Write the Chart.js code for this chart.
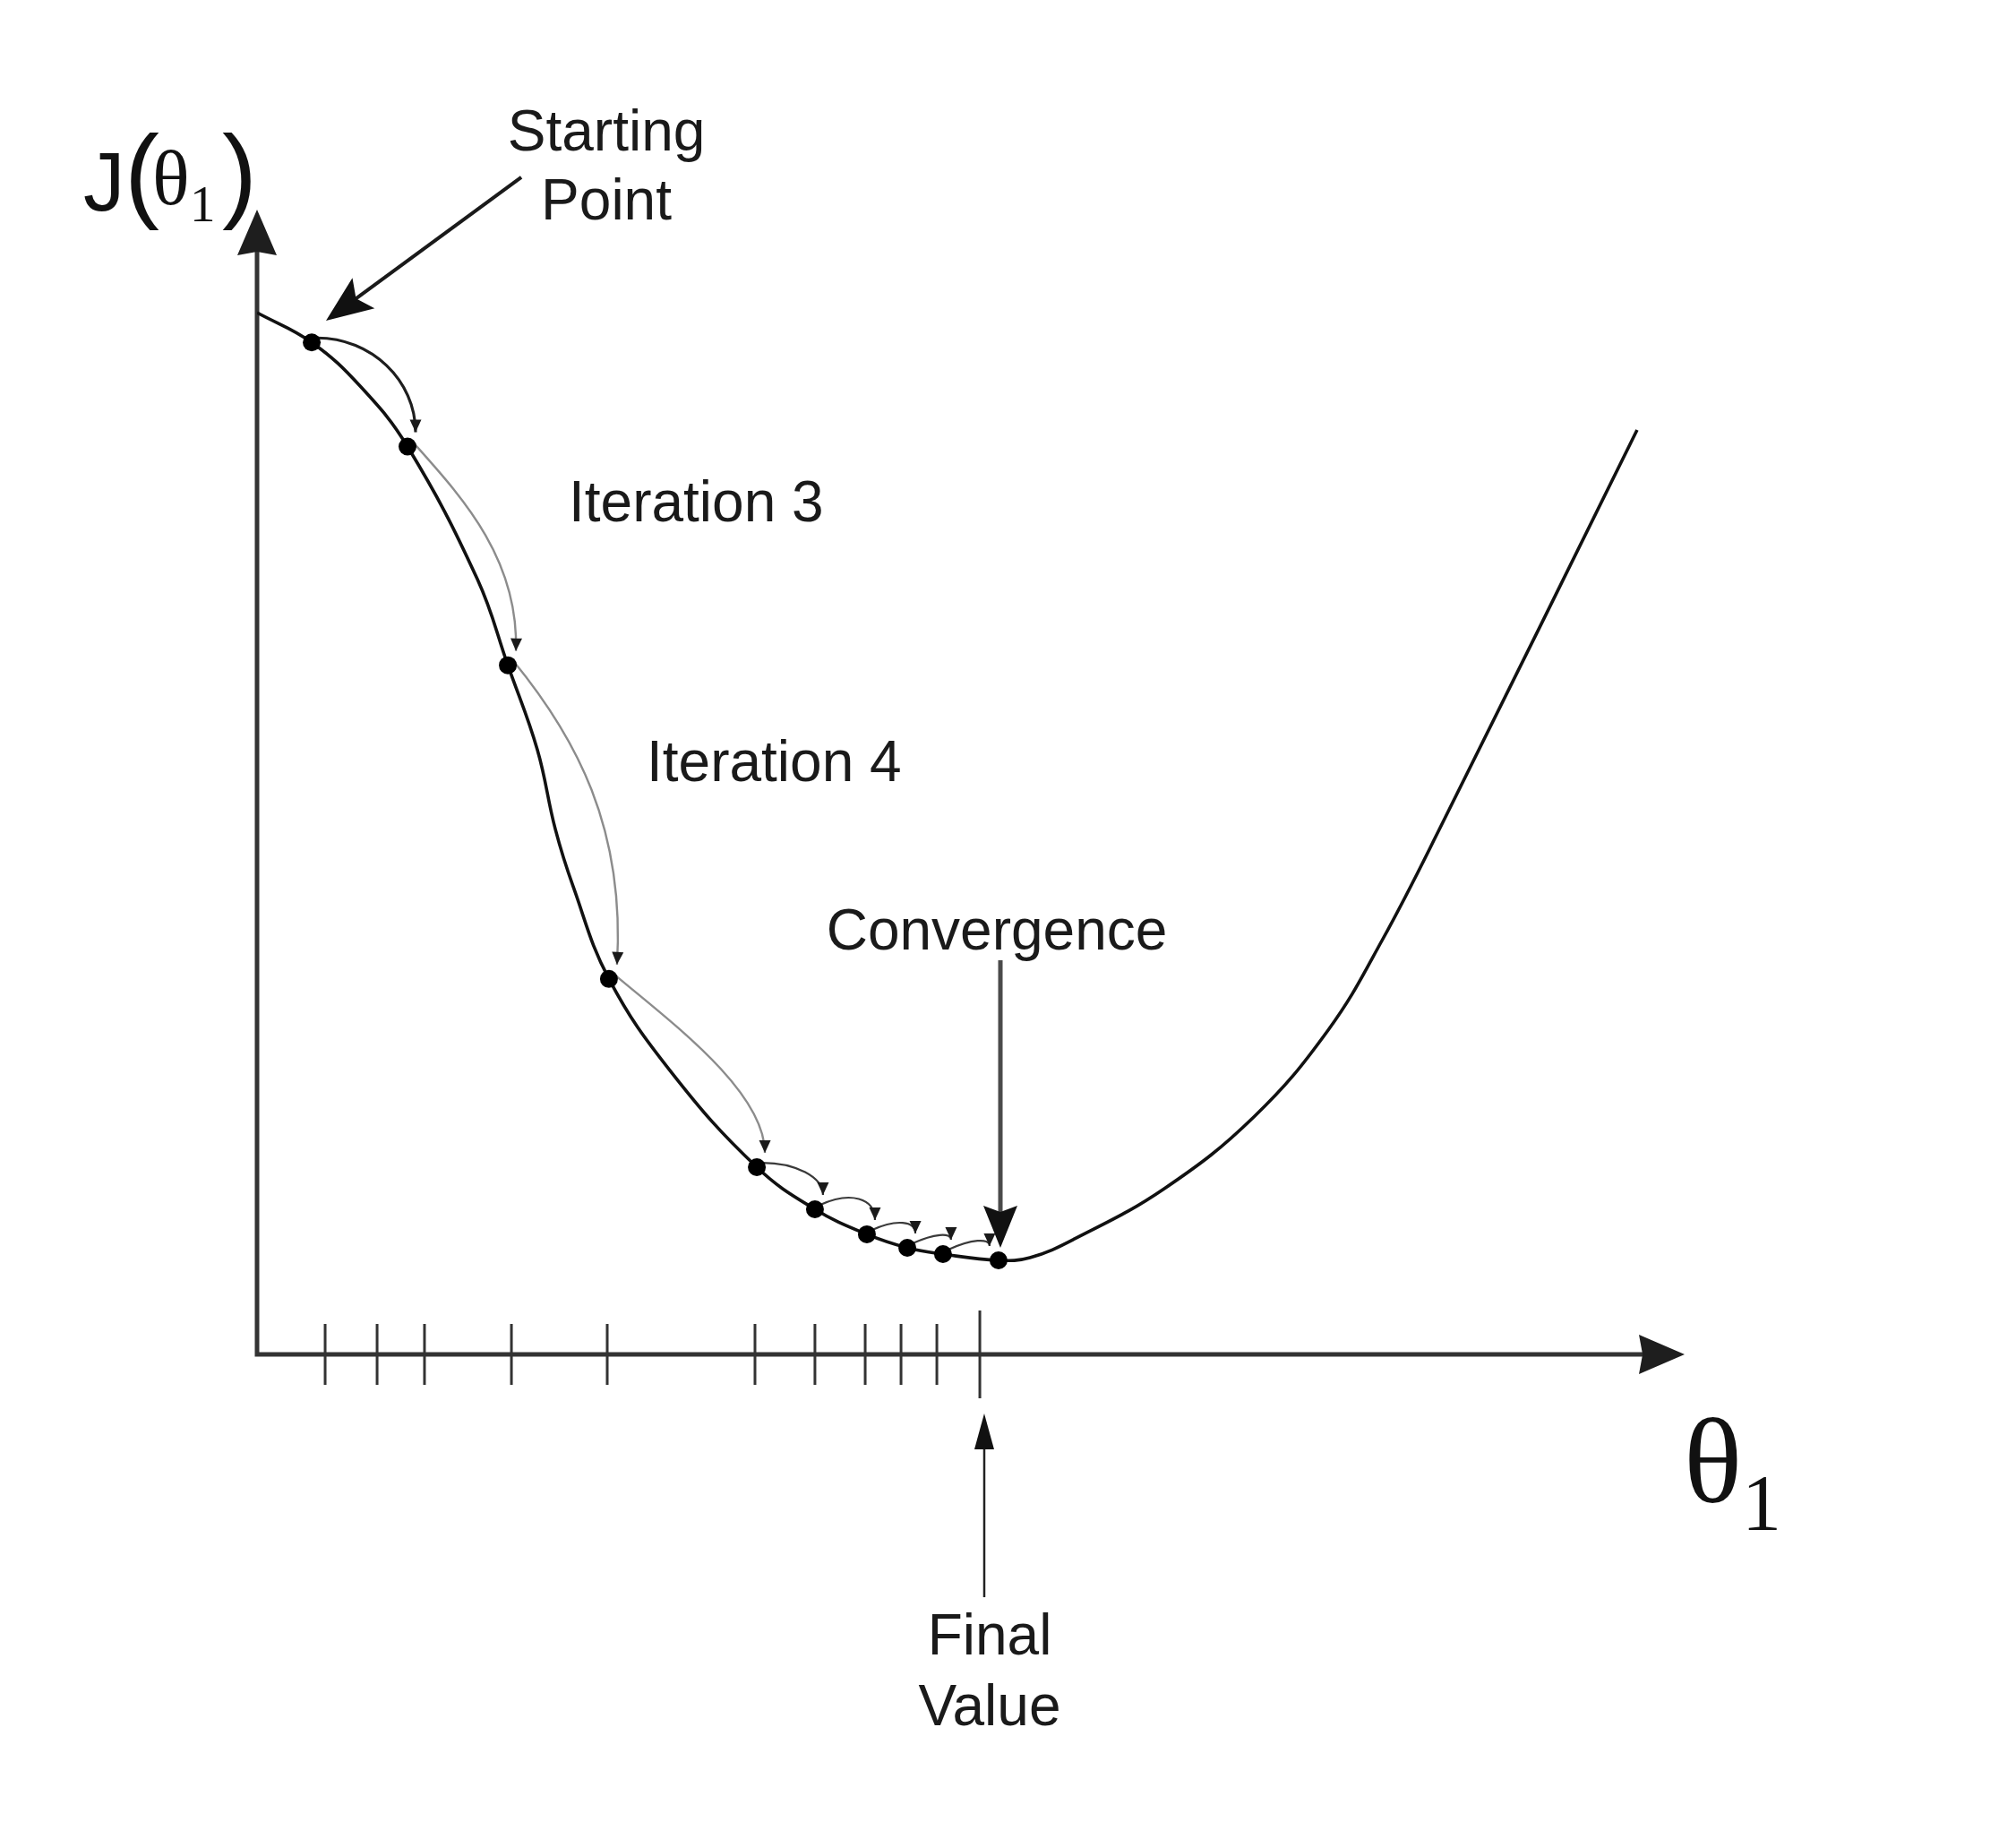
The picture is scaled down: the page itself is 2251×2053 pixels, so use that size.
<!DOCTYPE html>
<html>
<head>
<meta charset="utf-8">
<title>Gradient descent</title>
<script src="https://cdn.jsdelivr.net/npm/chart.js@4.4.1/dist/chart.umd.min.js"></script>
<style>
  html, body { margin: 0; padding: 0; background: #fff; }
  canvas { display: block; }
</style>
</head>
<body>
<canvas id="myChart" width="2251" height="2053"></canvas>
<script>
// curva di costo J(theta1) (unita' arbitrarie, assi 0-10)
const curveX = [0, 0.383, 0.728, 1.054, 1.544, 1.757, 1.964, 2.089, 2.215, 2.465, 2.905, 3.501, 3.908, 4.272, 4.555, 4.805, 5.194, 5.414, 5.728, 6.355, 6.982, 7.503, 7.880, 8.300, 9.667];
const curveY = [9.10, 8.84, 8.45, 7.93, 6.77, 6.02, 5.28, 4.59, 4.085, 3.28, 2.46, 1.635, 1.268, 1.049, 0.931, 0.876, 0.822, 0.845, 1.01, 1.448, 2.074, 2.833, 3.615, 4.632, 8.075];

// passi della discesa del gradiente
const stepX = [0.383, 1.054, 1.757, 2.465, 3.501, 3.908, 4.272, 4.555, 4.805, 5.194];
const stepY = [8.84, 7.93, 6.02, 3.28, 1.635, 1.268, 1.049, 0.931, 0.876, 0.822];

// tacche sull'asse theta1 (l'ultima e' il valore finale)
const tickX = [0.477, 0.841, 1.173, 1.782, 2.453, 3.488, 3.908, 4.260, 4.511, 4.762, 5.063];

// testi
const startLabel = ['Starting', 'Point'];
const iterLabels = ['Iteration 3', 'Iteration 4'];
const convLabel = 'Convergence';
const finalLabel = ['Final', 'Value'];

// posizioni delle scritte, in unita' degli assi
const pos = {
  start: { x: 2.447, y: [10.516, 9.914] },
  startArrow: { from: [1.851, 10.282], to: [0.483, 9.030] },
  iter: [[2.183, 7.277], [2.729, 5.008]],
  conv: [5.182, 3.537],
  convArrow: { from: [5.207, 3.443], to: [5.207, 0.931] },
  finalArrow: { from: [5.094, -2.121], to: [5.094, -0.516] },
  final: { x: 5.132, y: [-2.621, -3.239] },
  yLabel: [-1.217, 9.992],
  xLabel: [9.994, -1.291]
};

// forma degli archi tra un passo e l'altro: [a, b, e, f]
const arcShape = [[0.55, 0, 0, 0.55], [0.45, 0.25, 0.03, 0.45], [0.6, 0.25, 0.08, 0.45], [0.35, 0.25, 0, 0.35]];

const SANS = '"Liberation Sans", Arial, Helvetica, sans-serif';
const SERIF = '"Liberation Serif", "Times New Roman", serif';

function punta(ctx, tx, ty, ux, uy, len, half, color, notch) {
  const n = Math.hypot(ux, uy); ux /= n; uy /= n;
  const bx = tx - ux * len, by = ty - uy * len;
  ctx.fillStyle = color;
  ctx.beginPath();
  ctx.moveTo(tx, ty);
  ctx.lineTo(bx - uy * half, by + ux * half);
  ctx.lineTo(bx + ux * len * (notch || 0), by + uy * len * (notch || 0));
  ctx.lineTo(bx + uy * half, by - ux * half);
  ctx.closePath();
  ctx.fill();
}

function freccia(ctx, f, t, len, half, width, lineColor, headColor, notch) {
  const d = Math.hypot(t[0] - f[0], t[1] - f[1]);
  const ux = (t[0] - f[0]) / d, uy = (t[1] - f[1]) / d;
  ctx.strokeStyle = lineColor;
  ctx.lineWidth = width;
  ctx.beginPath();
  ctx.moveTo(f[0], f[1]);
  ctx.lineTo(t[0] - ux * len * 0.7, t[1] - uy * len * 0.7);
  ctx.stroke();
  punta(ctx, t[0], t[1], ux, uy, len, half, headColor, notch);
}

const disegno = {
  id: 'disegno',
  beforeDatasetsDraw(chart) {
    const { ctx, chartArea: a, scales: { x, y } } = chart;
    const x0 = x.getPixelForValue(0), y0 = y.getPixelForValue(0);
    ctx.save();
    ctx.lineCap = 'butt';
    // assi con frecce
    ctx.strokeStyle = '#333';
    ctx.lineWidth = 5;
    ctx.beginPath();
    ctx.moveTo(x0, y0 + 2.5); ctx.lineTo(x0, a.top + 40);
    ctx.moveTo(x0 - 2.5, y0); ctx.lineTo(a.right - 40, y0);
    ctx.stroke();
    punta(ctx, x0, a.top, 0, -1, 51, 22, '#1e1e1e', 0.08);
    punta(ctx, a.right, y0, 1, 0, 51, 22, '#1e1e1e', 0.08);

    // archi delle iterazioni
    const last = stepX.length - 2;
    for (let i = 0; i <= last; i++) {
      const p0x = x.getPixelForValue(stepX[i]) + 6, p0y = y.getPixelForValue(stepY[i]) - 5;
      const p3x = x.getPixelForValue(stepX[i + 1]) + (i === last ? -10 : 9);
      const p3y = y.getPixelForValue(stepY[i + 1]) - 16;
      const dx = p3x - p0x, dy = p3y - p0y;
      const s = arcShape[i] || arcShape[0];
      const lift = (i >= arcShape.length && dy < 0.35 * dx) ? 0.25 * dx : 0;
      const c1x = p0x + s[0] * dx, c1y = p0y + s[1] * dy - lift;
      const c2x = p3x + s[2] * dx, c2y = p3y - s[3] * dy - lift;
      if (i === 0) { ctx.strokeStyle = '#1e1e1e'; ctx.lineWidth = 3.2; }
      else if (i < arcShape.length) { ctx.strokeStyle = '#8c8c8c'; ctx.lineWidth = 2.4; }
      else { ctx.strokeStyle = '#3a3a3a'; ctx.lineWidth = 2.2; }
      ctx.beginPath();
      ctx.moveTo(p0x, p0y);
      ctx.bezierCurveTo(c1x, c1y, c2x, c2y, p3x, p3y);
      ctx.stroke();
      punta(ctx, p3x, p3y, p3x - c2x, p3y - c2y, 14, 6.5, '#1a1a1a', 0);
    }
    ctx.restore();
  },
  afterDraw(chart) {
    const { ctx, scales: { x, y } } = chart;
    const P = (p) => [x.getPixelForValue(p[0]), y.getPixelForValue(p[1])];
    ctx.save();
    ctx.fillStyle = '#1a1a1a';
    ctx.textBaseline = 'alphabetic';
    ctx.font = '64px ' + SANS;

    // Starting Point
    ctx.textAlign = 'center';
    startLabel.forEach((t, k) => {
      const q = P([pos.start.x, pos.start.y[k]]);
      ctx.fillText(t, q[0], q[1]);
    });
    freccia(ctx, P(pos.startArrow.from), P(pos.startArrow.to), 52, 21, 4, '#1a1a1a', '#111', 0.2);

    // Iteration 3 / 4
    ctx.fillStyle = '#1a1a1a';
    ctx.textAlign = 'left';
    iterLabels.forEach((t, k) => {
      const q = P(pos.iter[k]);
      ctx.fillText(t, q[0], q[1]);
    });

    // Convergence
    ctx.textAlign = 'center';
    let q = P(pos.conv);
    ctx.fillText(convLabel, q[0], q[1]);
    freccia(ctx, P(pos.convArrow.from), P(pos.convArrow.to), 47, 19, 5, '#4a4a4a', '#111', 0.15);

    // Final Value
    ctx.fillStyle = '#1a1a1a';
    finalLabel.forEach((t, k) => {
      const r = P([pos.final.x, pos.final.y[k]]);
      ctx.fillText(t, r[0], r[1]);
    });
    freccia(ctx, P(pos.finalArrow.from), P(pos.finalArrow.to), 40, 11, 2.5, '#222', '#111', 0);

    // etichetta asse y: J(θ1)
    ctx.fillStyle = '#111';
    ctx.textAlign = 'left';
    q = P(pos.yLabel);
    ctx.font = '93px ' + SANS;
    ctx.fillText('J', q[0], q[1]);
    ctx.font = '117px ' + SANS;
    ctx.fillText('(', q[0] + 46, q[1] - 2);
    ctx.fillText(')', q[0] + 155, q[1] - 2);
    ctx.font = '87px ' + SERIF;
    ctx.fillText('θ', q[0] + 77, q[1] - 7);
    ctx.font = '57px ' + SERIF;
    ctx.fillText('1', q[0] + 119, q[1] + 12);

    // etichetta asse x: θ1
    q = P(pos.xLabel);
    ctx.font = '136px ' + SERIF;
    ctx.fillText('θ', q[0], q[1]);
    ctx.font = '88px ' + SERIF;
    ctx.fillText('1', q[0] + 65, q[1] + 30);
    ctx.restore();
  }
};

const ctx = document.getElementById('myChart');

new Chart(ctx, {
  type: 'scatter',
  data: {
    datasets: [
      {
        label: 'J(θ1)',
        data: curveX.map((v, i) => ({ x: v, y: curveY[i] })),
        showLine: true,
        borderColor: '#111',
        borderWidth: 3.6,
        tension: 0.4,
        pointRadius: 0,
        order: 2
      },
      {
        label: 'passi',
        data: stepX.map((v, i) => ({ x: v, y: stepY[i] })),
        pointRadius: 10,
        pointBackgroundColor: '#000',
        pointBorderColor: '#000',
        pointBorderWidth: 0,
        clip: false,
        order: 1
      },
      {
        label: 'tacche',
        data: tickX.map(v => ({ x: v, y: 0 })),
        pointStyle: 'line',
        rotation: 90,
        pointRadius: tickX.map((v, i) => i === tickX.length - 1 ? 49 : 34),
        pointBorderColor: '#333',
        pointBorderWidth: 3,
        clip: false,
        order: 3
      }
    ]
  },
  options: {
    responsive: false,
    devicePixelRatio: 1,
    animation: false,
    events: [],
    layout: { padding: { left: 287, right: 370, top: 234, bottom: 541 } },
    plugins: { legend: { display: false }, tooltip: { enabled: false } },
    scales: {
      x: { type: 'linear', min: 0, max: 10, display: false },
      y: { type: 'linear', min: 0, max: 10, display: false }
    }
  },
  plugins: [disegno]
});
</script>
</body>
</html>
